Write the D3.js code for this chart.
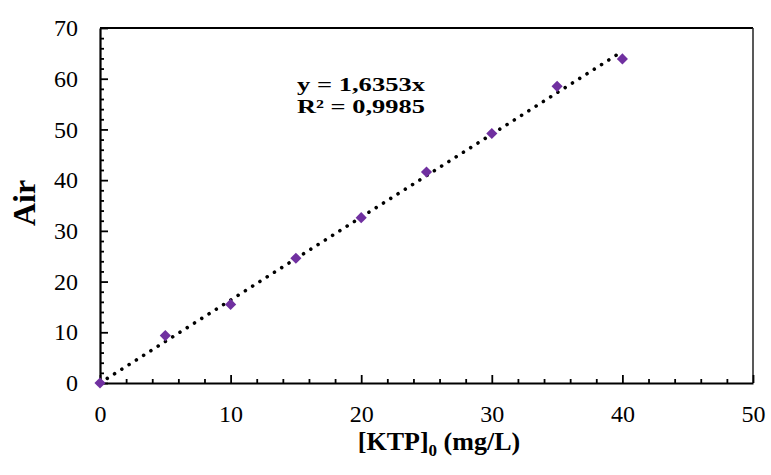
<!DOCTYPE html>
<html>
<head>
<meta charset="utf-8">
<script src="https://cdn.jsdelivr.net/npm/d3@7"></script>
<style>
  body { margin: 0; background: #fff; }
  svg { display: block; font-family: "Liberation Serif", "Times New Roman", serif; }
</style>
</head>
<body>
<div id="chart"></div>
<script>
// data
const conc = [0, 5, 10, 15, 20, 25, 30, 35, 40];
const air = [0, 9.35, 15.5, 24.6, 32.6, 41.6, 49.2, 58.5, 63.9];
const slope = 1.6353;
const r2 = "0,9985";
const xTicks = [0, 10, 20, 30, 40, 50];
const yTicks = [0, 10, 20, 30, 40, 50, 60, 70];

const width = 771;
const height = 475;
const margin = { top: 28, right: 18, bottom: 92, left: 100 };
const innerW = width - margin.left - margin.right;
const innerH = height - margin.top - margin.bottom;

const svg = d3.select("#chart")
  .append("svg")
  .attr("width", width)
  .attr("height", height);

const x = d3.scaleLinear().domain([0, 50]).range([0, innerW]);
const y = d3.scaleLinear().domain([0, 70]).range([innerH, 0]);

const g = svg.append("g")
  .attr("transform", `translate(${margin.left},${margin.top})`);

// frame: top and right edges (left/bottom come from the axes)
g.append("path")
  .attr("d", `M0,0H${innerW}`)
  .attr("stroke", "#000")
  .attr("stroke-width", 2);
g.append("path")
  .attr("d", `M${innerW},0V${innerH}`)
  .attr("stroke", "#222")
  .attr("stroke-width", 1.5);

// minor ticks (inside)
const minorX = d3.range(0, 51, 2).filter((d) => d % 10 !== 0);
const minorY = d3.range(0, 71, 2).filter((d) => d % 10 !== 0);

g.append("g")
  .attr("transform", `translate(0,${innerH})`)
  .call(d3.axisBottom(x).tickValues(minorX).tickSize(-4).tickFormat(""))
  .call((a) => a.select(".domain").remove())
  .selectAll("line").attr("stroke-width", 1.8);

g.append("g")
  .call(d3.axisLeft(y).tickValues(minorY).tickSize(-4).tickFormat(""))
  .call((a) => a.select(".domain").remove())
  .selectAll("line").attr("stroke-width", 1.8);

// major axes
const xAxis = g.append("g")
  .attr("transform", `translate(0,${innerH})`)
  .call(d3.axisBottom(x).tickValues(xTicks).tickSizeInner(-8).tickSizeOuter(0).tickPadding(22));
const yAxis = g.append("g")
  .call(d3.axisLeft(y).tickValues(yTicks).tickSizeInner(-8).tickSizeOuter(0).tickPadding(22));

[xAxis, yAxis].forEach((a) => {
  a.select(".domain").attr("stroke-width", 2.2);
  a.selectAll("line").attr("stroke-width", 1.8);
  a.selectAll("text")
    .attr("font-family", "Liberation Serif")
    .attr("font-size", 24)
    .attr("fill", "#000");
});

// trendline y = 1.6353x (dotted)
g.append("line")
  .attr("x1", x(0))
  .attr("y1", y(0))
  .attr("x2", x(40))
  .attr("y2", y(slope * 40))
  .attr("stroke", "#000")
  .attr("stroke-width", 3.6)
  .attr("stroke-linecap", "round")
  .attr("stroke-dasharray", "0.01 8.6");

// markers
g.append("g")
  .selectAll("path")
  .data(conc)
  .join("path")
  .attr("d", d3.symbol(d3.symbolSquare, 62))
  .attr("transform", (d, i) => `translate(${x(d)},${y(air[i])}) rotate(45)`)
  .attr("fill", "#7030A0");

// equation label (two lines)
const eq = svg.append("text")
  .attr("font-weight", "bold")
  .attr("font-size", 19.5);
eq.append("tspan")
  .attr("x", 297)
  .attr("y", 91)
  .attr("textLength", 128)
  .attr("lengthAdjust", "spacingAndGlyphs")
  .text(`y = ${String(slope).replace(".", ",")}x`);
eq.append("tspan")
  .attr("x", 297)
  .attr("y", 113)
  .attr("textLength", 128)
  .attr("lengthAdjust", "spacingAndGlyphs")
  .text(`R² = ${r2}`);

// axis titles
svg.append("text")
  .attr("transform", "translate(35,203) rotate(-90)")
  .attr("text-anchor", "middle")
  .attr("font-weight", "bold")
  .attr("font-size", 32)
  .text("Air");

const xt = svg.append("text")
  .attr("x", 439)
  .attr("y", 450)
  .attr("text-anchor", "middle")
  .attr("font-weight", "bold")
  .attr("font-size", 26);
xt.append("tspan").text("[KTP]");
xt.append("tspan").attr("font-size", 17).attr("dy", 6).text("0");
xt.append("tspan").attr("dy", -6).text(" (mg/L)");
</script>
</body>
</html>
